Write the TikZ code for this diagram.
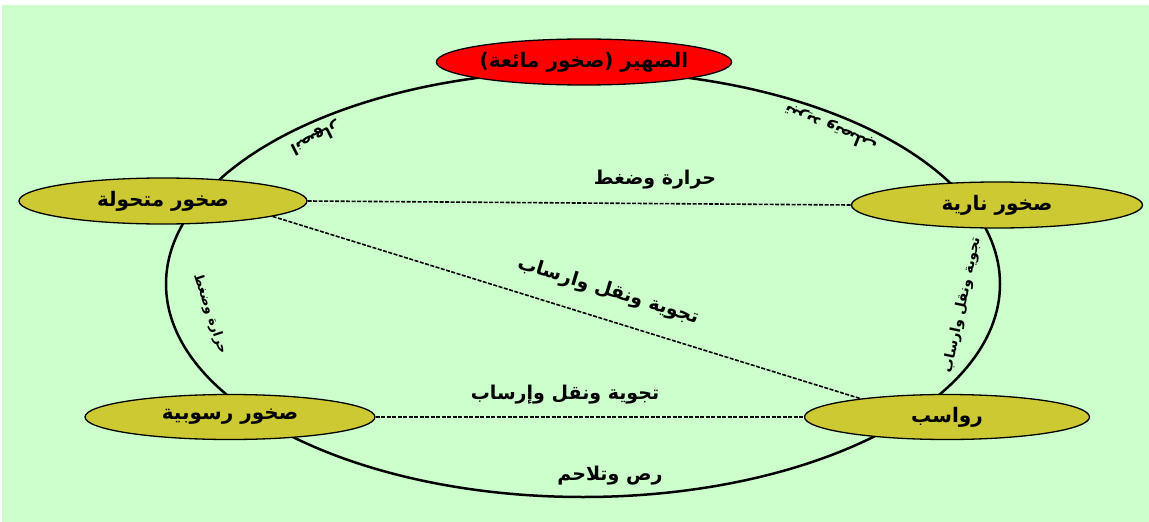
\documentclass[tikz,border=0pt]{standalone}
\usepackage{fontspec}
\newfontfamily\arabicfont[Script=Arabic]{DejaVu Sans}
\TeXXeTstate=1
\usetikzlibrary{shapes.geometric}
\definecolor{bggreen}{HTML}{CCFFCC}
\definecolor{rockfill}{HTML}{CCC933}
\newcommand{\artext}[1]{\arabicfont\bfseries\beginR #1\endR}
\tikzset{
  rock/.style={ellipse, draw=black, line width=1.3pt, fill=rockfill, inner sep=0pt,
    minimum width=288pt, minimum height=46pt, font=\fontsize{20}{22}\selectfont},
  lbl/.style={inner sep=1pt, font=\fontsize{19}{21}\selectfont},
  smalllbl/.style={inner sep=1pt, font=\fontsize{15}{17}\selectfont},
  link/.style={dashed, dash pattern=on 4pt off 1.5pt, line width=1.6pt},
}
\begin{document}
\begin{tikzpicture}[x=1pt,y=-1pt]
\useasboundingbox (0,0) rectangle (1149,522);
\fill[white] (0,0) rectangle (1149,522);
\fill[bggreen] (2,5) rectangle (1149,522);
\draw[line width=2.5pt] (583,284) ellipse [x radius=417, y radius=213];
\node[rock, fill=red] (magma) at (584,62) {\artext{الصهير (صخور مائعة)}};
\node[rock] (meta) at (163,201) {\artext{صخور متحولة}};
\node[rock, minimum width=291pt] (ign) at (997,205) {\artext{صخور نارية}};
\node[rock, minimum width=290pt, minimum height=45pt] (sed) at (230,417) {\artext{صخور رسوبية}};
\node[rock, minimum width=285pt, minimum height=45pt] (sedi) at (947,417) {\artext{رواسب}};
\draw[link] (meta.east) -- (ign.west);
\draw[link] (meta.-8) -- (sedi.168);
\draw[link] (sed.east) -- (sedi.west);
\node[lbl] (l1) at (655,180) {\artext{حرارة وضغط}};
\node[lbl, rotate=-17] (l2) at (608,291) {\artext{تجوية ونقل وارساب}};
\node[lbl] (l3) at (565,395) {\artext{تجوية ونقل وإرساب}};
\node[lbl] (l4) at (610,476) {\artext{رص وتلاحم}};
\node[smalllbl, font=\fontsize{14}{16}\selectfont, rotate=78] (l5) at (962,305) {\artext{تجوية ونقل وارساب}};
\node[smalllbl, font=\fontsize{13}{15}\selectfont, rotate=-72] (l6) at (210,314) {\artext{حرارة وضغط}};
\node[smalllbl, font=\fontsize{16}{18}\selectfont, rotate=207] (l7) at (315,138) {\artext{انصهار}};
\node[smalllbl, font=\fontsize{16}{18}\selectfont, rotate=158] (l8) at (831,128) {\artext{تبريد وتصلب}};
\end{tikzpicture}
\end{document}
